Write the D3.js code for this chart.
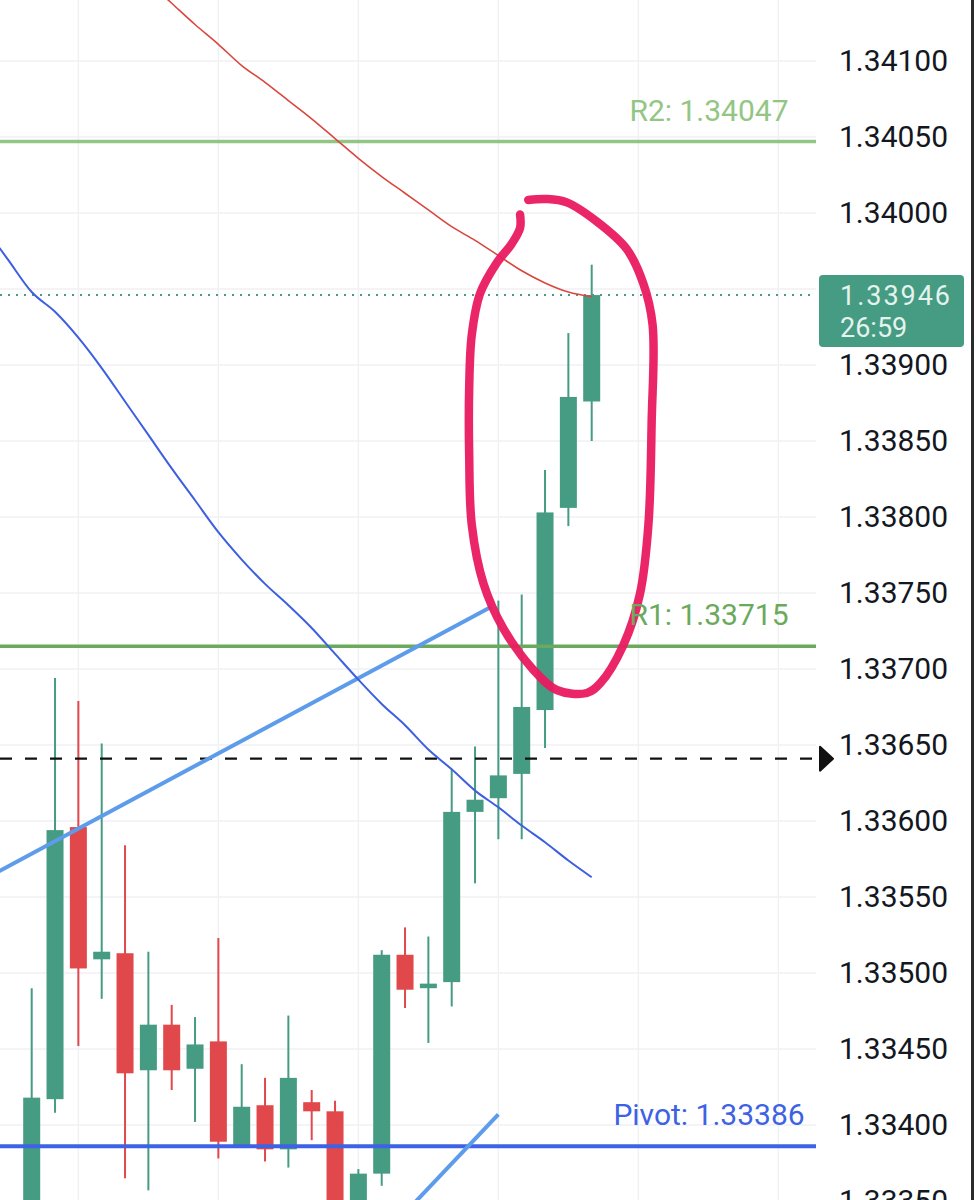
<!DOCTYPE html>
<html>
<head>
<meta charset="utf-8">
<script src="https://cdn.jsdelivr.net/npm/d3@7"></script>
<style>
  body { margin: 0; background: #fff; }
  svg { display: block; font-family: Roboto, "Noto Sans", sans-serif; }
</style>
</head>
<body>
<main></main>
<script>
const w = 976;
const h = 1200;
const plotRight = 816;

// candles, bar index 0..24
const opens  = [1.33320, 1.33417, 1.33596, 1.33509, 1.33513, 1.33436, 1.33466, 1.33437, 1.33455, 1.33386, 1.33413, 1.33384, 1.33415,
                1.33409, 1.33330, 1.33368, 1.33512, 1.33490, 1.33494, 1.33606, 1.33615, 1.33631, 1.33673, 1.33806, 1.33876];
const highs  = [1.33490, 1.33694, 1.33679, 1.33651, 1.33584, 1.33514, 1.33479, 1.33471, 1.33523, 1.33440, 1.33431, 1.33472, 1.33423,
                1.33416, 1.33371, 1.33515, 1.33530, 1.33524, 1.33634, 1.33649, 1.33745, 1.33749, 1.33831, 1.33921, 1.33966];
const lows   = [1.33300, 1.33408, 1.33452, 1.33483, 1.33365, 1.33357, 1.33423, 1.33402, 1.33378, 1.33385, 1.33376, 1.33372, 1.33390,
                1.33320, 1.33310, 1.33360, 1.33477, 1.33454, 1.33478, 1.33559, 1.33588, 1.33588, 1.33648, 1.33794, 1.33850];
const closes = [1.33418, 1.33594, 1.33503, 1.33514, 1.33434, 1.33466, 1.33436, 1.33453, 1.33389, 1.33412, 1.33384, 1.33431, 1.33409,
                1.33330, 1.33368, 1.33512, 1.33489, 1.33493, 1.33606, 1.33614, 1.33630, 1.33675, 1.33803, 1.33879, 1.33946];

// moving averages
const redStart = 4;
const redMA = [1.34166, 1.34152, 1.34138, 1.34124, 1.34111, 1.34097, 1.34086, 1.34074, 1.34062, 1.34049, 1.34036,
               1.34024, 1.34013, 1.34002, 1.33991, 1.33982, 1.33972, 1.33962, 1.33954, 1.33948, 1.33945];
const blueStart = -2;
const blueMA = [1.33990, 1.33969, 1.33948, 1.33935, 1.33918, 1.33898, 1.33876, 1.33854, 1.33832, 1.33811, 1.33790,
                1.33772, 1.33756, 1.33742, 1.33727, 1.33710, 1.33693, 1.33677, 1.33663, 1.33647, 1.33634, 1.33620,
                1.33609, 1.33597, 1.33586, 1.33574, 1.33563];

// drawn trend lines [bar, price]
const trendUpper = [[-2, 1.33562], [19.7, 1.33741]];
const trendLower = [[15, 1.33326], [20, 1.33407]];

// pivot levels
const levelNames  = ["R2", "R1", "Pivot"];
const levelPrices = [1.34047, 1.33715, 1.33386];
const levelColors = ["#93c684", "#6aaa5c", "#3d62e4"];

const lastPrice = 1.33946;
const countdown = "26:59";
const markPrice = 1.33641;

const priceTicks = [1.3335, 1.3340, 1.3345, 1.3350, 1.3355, 1.3360, 1.3365, 1.3370,
                    1.3375, 1.3380, 1.3385, 1.3390, 1.3395, 1.3400, 1.3405, 1.3410];
// 1.33950 sits under the last price box
const priceLabels = [1.3335, 1.3340, 1.3345, 1.3350, 1.3355, 1.3360, 1.3365, 1.3370,
                     1.3375, 1.3380, 1.3385, 1.3390, 1.3400, 1.3405, 1.3410];
const gridBars = [2, 8, 14, 20, 26, 32];

// hand drawn loop [bar, price]
const loopBars   = [21.28, 22.07, 22.93, 24.21, 25.50, 26.21, 26.61, 26.57, 26.43, 26.07, 25.35, 24.36, 23.79,
                    22.50, 21.50, 20.21, 19.36, 18.86, 18.75, 18.75, 18.86, 19.21, 19.93, 20.57, 20.93, 20.93];
const loopPrices = [1.340086, 1.340092, 1.340070, 1.339945, 1.339763, 1.339537, 1.339264, 1.338629, 1.337949,
                    1.337495, 1.337155, 1.336905, 1.336842, 1.336862, 1.336995, 1.337268, 1.337563, 1.337949,
                    1.338401, 1.338855, 1.339197, 1.339468, 1.339672, 1.339797, 1.339901, 1.339990];

const upColor = "#469b83";
const downColor = "#e0484c";

const xScale = d3.scaleLinear().domain([0, 24]).range([31.7, 591.7]);
const yScale = d3.scaleLinear().domain([1.3335, 1.341]).range([1201, 61]);

const svg = d3.select("main").append("svg")
    .attr("width", w)
    .attr("height", h);

svg.append("clipPath").attr("id", "plot")
  .append("rect").attr("x", 0).attr("y", 0).attr("width", plotRight).attr("height", h);

const plot = svg.append("g").attr("clip-path", "url(#plot)");

// grid
plot.selectAll(".hgrid").data(priceTicks).enter().append("line")
    .attr("x1", 0).attr("x2", plotRight)
    .attr("y1", d => yScale(d)).attr("y2", d => yScale(d))
    .attr("stroke", "#f0f1f4").attr("stroke-width", 1.5);
plot.selectAll(".vgrid").data(gridBars).enter().append("line")
    .attr("x1", d => xScale(d)).attr("x2", d => xScale(d))
    .attr("y1", 0).attr("y2", h)
    .attr("stroke", "#f0f1f4").attr("stroke-width", 1.5);

// candles
const candles = d3.range(opens.length).map(i => ({i: i, o: opens[i], hi: highs[i], lo: lows[i], c: closes[i]}));
const bodyW = 17;

plot.selectAll(".wick").data(candles).enter().append("line")
    .attr("x1", d => xScale(d.i)).attr("x2", d => xScale(d.i))
    .attr("y1", d => yScale(d.hi)).attr("y2", d => yScale(d.lo))
    .attr("stroke", d => d.c >= d.o ? upColor : downColor)
    .attr("stroke-width", 2);

plot.selectAll(".body").data(candles).enter().append("rect")
    .attr("x", d => xScale(d.i) - bodyW / 2)
    .attr("y", d => yScale(Math.max(d.o, d.c)))
    .attr("width", bodyW)
    .attr("height", d => Math.max(2, Math.abs(yScale(d.o) - yScale(d.c))))
    .attr("fill", d => d.c >= d.o ? upColor : downColor);

// levels
levelPrices.forEach((p, k) => {
  plot.append("line")
      .attr("x1", 0).attr("x2", plotRight)
      .attr("y1", yScale(p)).attr("y2", yScale(p))
      .attr("stroke", levelColors[k]).attr("stroke-width", k == 2 ? 4 : 3.5);
  svg.append("text")
      .attr("x", 709).attr("y", yScale(p) - 21)
      .attr("text-anchor", "middle")
      .attr("font-size", 30)
      .attr("fill", levelColors[k])
      .text(levelNames[k] + ": " + p.toFixed(5));
});

// last price dotted line
plot.append("line")
    .attr("x1", 0).attr("x2", plotRight)
    .attr("y1", yScale(lastPrice)).attr("y2", yScale(lastPrice))
    .attr("stroke", upColor).attr("stroke-width", 2)
    .attr("stroke-dasharray", "2,6");

// dashed mark line
plot.append("line")
    .attr("x1", 0).attr("x2", plotRight)
    .attr("y1", yScale(markPrice)).attr("y2", yScale(markPrice))
    .attr("stroke", "#111").attr("stroke-width", 2.2)
    .attr("stroke-dasharray", "12,13");

// trend lines
const line = d3.line().x(d => xScale(d[0])).y(d => yScale(d[1]));
[trendUpper, trendLower].forEach(t => {
  plot.append("path").attr("d", line(t))
      .attr("fill", "none").attr("stroke", "#5d9cea").attr("stroke-width", 4);
});

// moving averages
const maLine = d3.line().x(d => xScale(d[0])).y(d => yScale(d[1])).curve(d3.curveMonotoneX);
plot.append("path")
    .attr("d", maLine(redMA.map((v, k) => [redStart + k, v])))
    .attr("fill", "none").attr("stroke", "#d9473f").attr("stroke-width", 1.6);
plot.append("path")
    .attr("d", maLine(blueMA.map((v, k) => [blueStart + k, v])))
    .attr("fill", "none").attr("stroke", "#3d5fe0").attr("stroke-width", 2);

// hand drawn loop
const loopLine = d3.line().x(d => xScale(d[0])).y(d => yScale(d[1])).curve(d3.curveCatmullRom);
plot.append("path")
    .attr("d", loopLine(loopBars.map((b, k) => [b, loopPrices[k]])))
    .attr("fill", "none").attr("stroke", "#ea1a60").attr("stroke-width", 8.5)
    .attr("stroke-linecap", "round").attr("stroke-linejoin", "round")
    .attr("opacity", 0.95);

// price axis
const yAxis = d3.axisRight(yScale)
    .tickValues(priceLabels)
    .tickFormat(d3.format(".5f"))
    .tickSize(0)
    .tickPadding(0);

const axisG = svg.append("g")
    .attr("transform", "translate(839,0)")
    .call(yAxis);
axisG.select(".domain").remove();
axisG.selectAll("text")
    .attr("font-size", 30)
    .attr("font-family", "Roboto, sans-serif")
    .attr("fill", "#131722");

// mark arrow
const my = yScale(markPrice);
svg.append("path")
    .attr("d", `M820,${my - 12} L833,${my} L820,${my + 12} Z`)
    .attr("fill", "#111").attr("stroke", "#111").attr("stroke-width", 2)
    .attr("stroke-linejoin", "round");

// last price label (price + countdown)
const ly = yScale(lastPrice);
svg.append("rect")
    .attr("x", 819).attr("y", ly - 20)
    .attr("width", 145).attr("height", 72)
    .attr("rx", 4)
    .attr("fill", upColor);
const priceTag = svg.append("text")
    .attr("x", 840).attr("y", ly + 10)
    .attr("font-size", 27).attr("fill", "#e4f3ee");
priceTag.append("tspan").attr("x", 840).attr("textLength", 110).text(lastPrice.toFixed(5));
priceTag.append("tspan").attr("x", 840).attr("dy", 32).text(countdown);

// right edge strip
svg.append("rect")
    .attr("x", 971).attr("y", 0)
    .attr("width", 3).attr("height", h)
    .attr("fill", "#2b2b2b");
</script>
</body>
</html>
